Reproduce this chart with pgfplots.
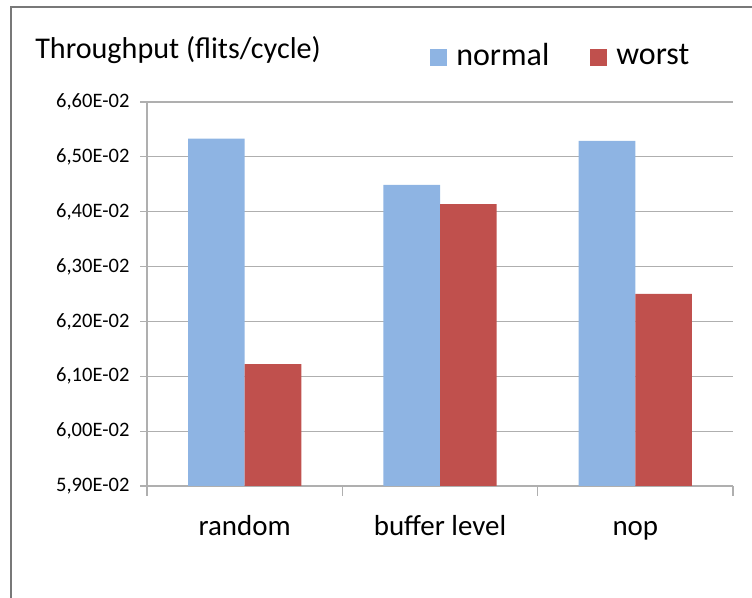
\documentclass[border=0pt]{standalone}
\usepackage{pgfplots}
\pgfplotsset{compat=1.18}
\usepackage{fontspec}
\setmainfont{Carlito}
\definecolor{barblue}{RGB}{142,180,227}
\definecolor{barred}{RGB}{192,80,77}
\definecolor{gridgray}{RGB}{175,175,175}
\definecolor{framegray}{RGB}{120,120,120}
\begin{document}
\begin{tikzpicture}
\useasboundingbox (0,0) rectangle (564pt,448.5pt);
\draw[framegray, line width=1.3pt] (8.5pt,0) -- (8.5pt,443.25pt) -- (564pt,443.25pt);
\node[anchor=base west, inner sep=0pt, font=\fontsize{22.6}{26}\selectfont] at (26.25pt,404.25pt) {Throughput (flits/cycle)};
\begin{axis}[
  at={(110.25pt,84pt)}, anchor=south west,
  scale only axis, width=439.5pt, height=288pt,
  ybar=0pt, bar width=0.29,
  xmin=-0.5, xmax=2.5, ymin=0.059, ymax=0.066,
  scaled y ticks=false,
  xtick={0,1,2}, xticklabels={random, buffer level, nop},
  minor xtick={-0.5,0.5,1.5,2.5},
  ytick={0.059,0.060,0.061,0.062,0.063,0.064,0.065,0.066},
  yticklabels={{5,90E-02},{6,00E-02},{6,10E-02},{6,20E-02},{6,30E-02},{6,40E-02},{6,50E-02},{6,60E-02}},
  axis lines*=left,
  axis line style={gridgray, line width=0.9pt},
  ymajorgrids, grid style={gridgray, line width=0.9pt},
  tick align=outside,
  major tick length=5pt, minor tick length=7.5pt,
  major x tick style={draw=none},
  minor x tick style={gridgray, line width=0.9pt},
  ytick style={gridgray, line width=0.9pt},
  yticklabel style={font=\fontsize{15.4}{18}\selectfont, inner sep=0pt, anchor=east, xshift=-8pt},
  xticklabel style={font=\fontsize{21.7}{26}\selectfont, inner sep=0pt, anchor=base, yshift=-32pt},
  legend style={at={(0.483,1.0886)}, anchor=south west, draw=none, fill=none, inner sep=0pt,
    font=\fontsize{24}{28}\selectfont, nodes={inner sep=0pt},
    /tikz/every odd column/.append style={column sep=6.75pt},
    /tikz/every even column/.append style={column sep=30.75pt}},
  legend columns=2,
]
\addplot[fill=barblue, draw=none, legend image code/.code={\fill[barblue] (0pt,-7.5pt) rectangle (12.75pt,5.25pt);}]
  coordinates {(0,0.06533) (1,0.06449) (2,0.06529)};
\addplot[fill=barred, draw=none, legend image code/.code={\fill[barred] (0pt,-7.5pt) rectangle (12.75pt,5.25pt);}]
  coordinates {(0,0.06122) (1,0.06414) (2,0.06250)};
\legend{normal, worst}
\end{axis}
\end{tikzpicture}
\end{document}
